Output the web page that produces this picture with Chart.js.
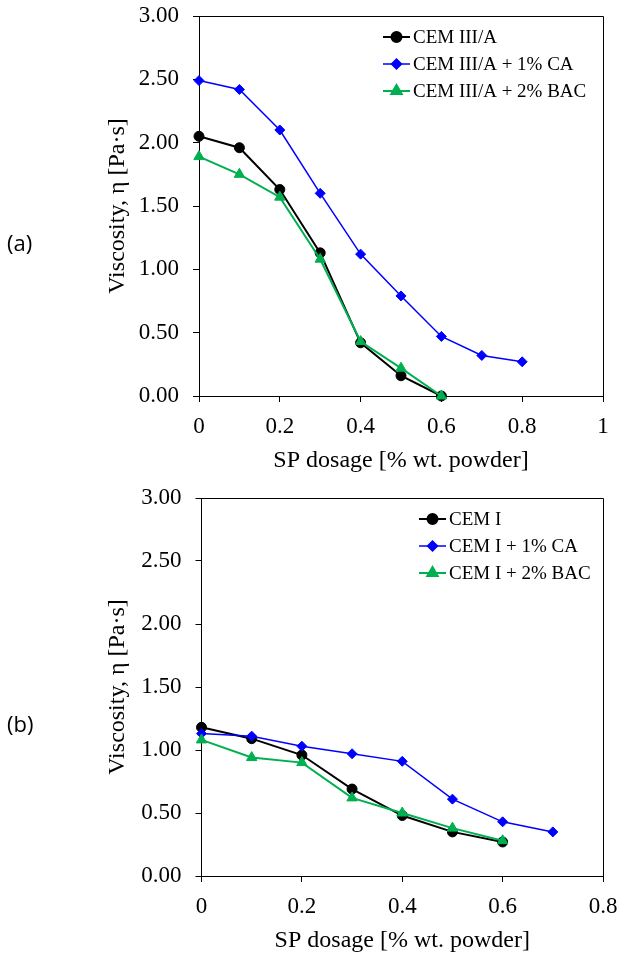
<!DOCTYPE html>
<html>
<head>
<meta charset="utf-8">
<script src="https://cdn.jsdelivr.net/npm/chart.js@4"></script>
<style>
  html, body { margin: 0; padding: 0; background: #fff; }
  body { width: 618px; height: 954px; position: relative; overflow: hidden; }
  .panel { position: absolute; left: 0; width: 618px; }
  .tag { position: absolute; left: 7px; font: 22px "Open Sans", sans-serif; color: #000; line-height: 1; }
</style>
</head>
<body>
<div class="panel" style="top:0;height:476px"><canvas id="chartA"></canvas></div>
<div class="tag" style="top:231px">(a)</div>
<div class="panel" style="top:476px;height:478px"><canvas id="chartB"></canvas></div>
<div class="tag" style="top:712px">(b)</div>
<script>
// SP dosage steps [% wt. powder]
const dosage = [0, 0.1, 0.2, 0.3, 0.4, 0.5, 0.6, 0.7, 0.8];

// (a) CEM III/A pastes, viscosity [Pa·s]
const namesA = ['CEM III/A', 'CEM III/A + 1% CA', 'CEM III/A + 2% BAC'];
const cemIIIA = [2.05, 1.96, 1.63, 1.13, 0.42, 0.16, 0.00];
const cemIIIA_CA = [2.49, 2.42, 2.10, 1.60, 1.12, 0.79, 0.47, 0.32, 0.27];
const cemIIIA_BAC = [1.89, 1.75, 1.57, 1.08, 0.43, 0.22, 0.00];

// (b) CEM I pastes, viscosity [Pa·s]
const namesB = ['CEM I', 'CEM I + 1% CA', 'CEM I + 2% BAC'];
const cemI = [1.18, 1.09, 0.96, 0.69, 0.48, 0.35, 0.27];
const cemI_CA = [1.13, 1.11, 1.03, 0.97, 0.91, 0.61, 0.43, 0.35];
const cemI_BAC = [1.08, 0.94, 0.90, 0.62, 0.50, 0.38, 0.28];

// axis ticks
const yTicks = [0, 0.5, 1, 1.5, 2, 2.5, 3];
const xTicksA = [0, 0.2, 0.4, 0.6, 0.8, 1];
const xLabelsA = ['0', '0.2', '0.4', '0.6', '0.8', '1'];
const xTicksB = [0, 0.2, 0.4, 0.6, 0.8];
const xLabelsB = ['0', '0.2', '0.4', '0.6', '0.8'];

const SERIF = '"Liberation Serif", "Times New Roman", serif';
const toPoints = vals => vals.map((v, i) => ({ x: dosage[i], y: v }));

// closes the box on the top and right side
const frame = {
  id: 'frame',
  beforeDatasetsDraw(chart) {
    const { ctx, chartArea: a } = chart;
    const t = Math.round(a.top) + 0.5, r = Math.round(a.right) + 0.5;
    ctx.save();
    ctx.strokeStyle = '#000';
    ctx.lineWidth = 1;
    ctx.beginPath();
    ctx.moveTo(Math.round(a.left), t);
    ctx.lineTo(r, t);
    ctx.lineTo(r, Math.round(a.bottom));
    ctx.stroke();
    ctx.restore();
  }
};

// legend drawn inside the plot, top right
const insideLegend = {
  id: 'insideLegend',
  afterDatasetsDraw(chart, args, opts) {
    const { ctx, chartArea: a } = chart;
    const x0 = a.left + opts.x;
    ctx.save();
    opts.rows.forEach((idx, row) => {
      const ds = chart.data.datasets[idx];
      const y = a.top + opts.y + row * opts.gap;
      ctx.strokeStyle = ds.borderColor;
      ctx.lineWidth = ds.borderWidth;
      ctx.beginPath();
      ctx.moveTo(x0, y);
      ctx.lineTo(x0 + opts.len, y);
      ctx.stroke();
      ctx.fillStyle = ds.pointBackgroundColor;
      ctx.strokeStyle = ds.borderColor;
      Chart.helpers.drawPoint(ctx, {
        pointStyle: ds.pointStyle, radius: ds.pointRadius, rotation: 0, borderWidth: 1
      }, x0 + opts.len / 2, y);
      ctx.fillStyle = '#000';
      ctx.font = '19px ' + SERIF;
      ctx.textAlign = 'left';
      ctx.textBaseline = 'middle';
      ctx.fillText(ds.label, x0 + opts.len + 3, y + 1);
    });
    ctx.restore();
  }
};

function series(label, vals, color, style, radius, width, order) {
  return {
    label, data: toPoints(vals), order,
    borderColor: color, backgroundColor: color,
    pointBackgroundColor: color, pointBorderColor: color,
    pointStyle: style, pointRadius: radius, pointBorderWidth: 1,
    borderWidth: width, tension: 0, clip: false
  };
}

function buildChart(id, p) {
  return new Chart(document.getElementById(id), {
    type: 'line',
    data: {
      datasets: [
        series(p.names[0], p.plain, '#000000', 'circle', 5, 2, 2),
        series(p.names[1], p.ca, '#0000ff', 'rectRot', 5, 1.5, 1),
        series(p.names[2], p.bac, '#00b050', 'triangle', 6, 2, 0)
      ]
    },
    plugins: [frame, insideLegend],
    options: {
      responsive: true,
      maintainAspectRatio: false,
      animation: false,
      layout: { padding: { left: 100, top: p.top, right: 618 - p.right, bottom: 0 } },
      plugins: {
        legend: { display: false },
        tooltip: { enabled: false },
        insideLegend: { x: p.legX, y: 21, gap: 27, len: 27, rows: [0, 1, 2] }
      },
      scales: {
        x: {
          type: 'linear', min: 0, max: p.xMax,
          afterBuildTicks: s => { s.ticks = p.xTicks.map(v => ({ value: v })); },
          afterFit: s => { s.height = p.xHeight; s.paddingLeft = 0; s.paddingRight = 0; },
          ticks: {
            callback: (v, i) => p.xLabels[i],
            font: { family: SERIF, size: 23 }, color: '#000',
            padding: 11, maxRotation: 0, autoSkip: false
          },
          grid: { drawOnChartArea: false, drawTicks: true, tickLength: 6, color: '#000' },
          border: { color: '#000', width: 1 },
          title: {
            display: true, text: 'SP dosage [% wt. powder]', color: '#000',
            font: { family: SERIF, size: 24, lineHeight: 1 },
            padding: { top: 0, bottom: p.xTitlePad }
          }
        },
        y: {
          min: 0, max: 3,
          afterBuildTicks: s => { s.ticks = yTicks.map(v => ({ value: v })); },
          afterFit: s => { s.width = p.left - 100; s.paddingTop = 0; s.paddingBottom = 0; },
          ticks: {
            callback: v => v.toFixed(2),
            font: { family: SERIF, size: 23 }, color: '#000', padding: 14
          },
          grid: { drawOnChartArea: false, drawTicks: true, tickLength: 6, color: '#000' },
          border: { color: '#000', width: 1 },
          title: {
            display: true, text: 'Viscosity, η [Pa·s]', color: '#000',
            font: { family: SERIF, size: 24, lineHeight: 1 },
            padding: { top: 6, bottom: 0 }
          }
        }
      }
    }
  });
}

buildChart('chartA', {
  names: namesA, plain: cemIIIA, ca: cemIIIA_CA, bac: cemIIIA_BAC,
  xMax: 1, xTicks: xTicksA, xLabels: xLabelsA,
  top: 16, left: 199, right: 603, xHeight: 80, xTitlePad: 3, legX: 184
});

buildChart('chartB', {
  names: namesB, plain: cemI, ca: cemI_CA, bac: cemI_BAC,
  xMax: 0.8, xTicks: xTicksB, xLabels: xLabelsB,
  top: 22, left: 201.5, right: 603, xHeight: 78, xTitlePad: 1, legX: 217.5
});
</script>
</body>
</html>
